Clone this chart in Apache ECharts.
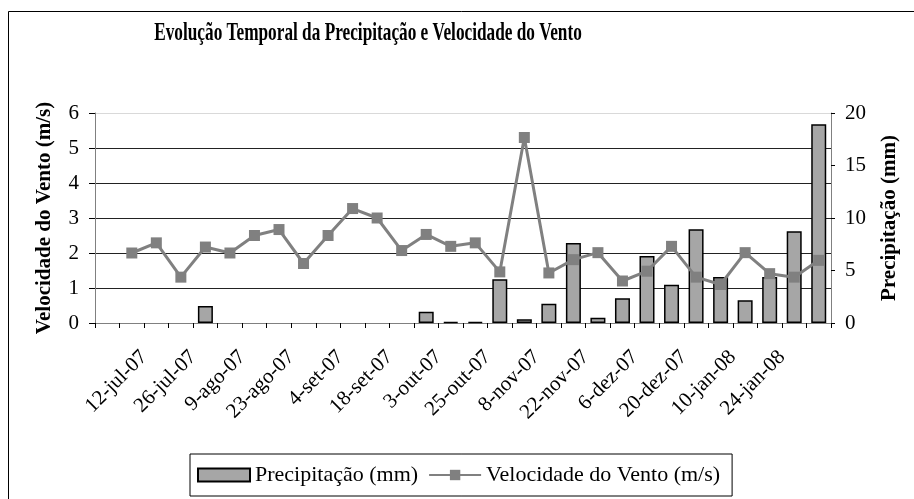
<!DOCTYPE html>
<html>
<head>
<meta charset="utf-8">
<script src="https://cdn.jsdelivr.net/npm/echarts@6/dist/echarts.min.js"></script>
<style>
html,body{margin:0;padding:0;background:#fff;}
#chart{width:914px;height:499px;}
</style>
</head>
<body>
<div id="chart"></div>
<script>
// Tick labels shown under the x axis (every second category boundary)
const tickLabels = ['12-jul-07','26-jul-07','9-ago-07','23-ago-07','4-set-07','18-set-07','3-out-07','25-out-07','8-nov-07','22-nov-07','6-dez-07','20-dez-07','10-jan-08','24-jan-08'];
// 30 category slots (first one empty)
const categories = ['','','','','','','','','','','','','','','','','','','','','','','','','','','','','',''];
// Precipitação (mm)
const precipitation = ['-','-','-','-',1.62,'-','-','-','-','-','-','-','-',1.08,0.1,0.1,4.16,0.35,1.84,7.62,0.51,2.35,6.38,3.65,8.92,4.38,2.16,4.38,8.73,18.92];
// Velocidade do Vento (m/s)
const windSpeed = ['-',2.0,2.29,1.31,2.17,2.0,2.5,2.67,1.70,2.5,3.27,3.0,2.07,2.53,2.19,2.29,1.46,5.30,1.43,1.81,2.01,1.2,1.48,2.19,1.31,1.1,2.01,1.41,1.31,1.79];

// boundary positions (31) carrying the labels at even boundaries 2..28
const boundaryLabels = [];
for (let k = 0; k <= categories.length; k++) boundaryLabels.push('');
tickLabels.forEach((t, i) => { boundaryLabels[2 * i + 2] = t; });

const FONT = 'Liberation Serif, Times New Roman, serif';
const chart = echarts.init(document.getElementById('chart'), null, {renderer: 'canvas'});
chart.setOption({
  animation: false,
  backgroundColor: '#fff',
  textStyle: {fontFamily: FONT, color: '#000'},
  graphic: [
    {type: 'rect', shape: {x: 8.5, y: 11.5, width: 1000, height: 1000}, style: {fill: null, stroke: '#000', lineWidth: 1}, silent: true, z: -10},
    {type: 'text', x: 368, y: 34, scaleX: 0.69, style: {text: 'Evolução Temporal da Precipitação e Velocidade do Vento', font: 'bold 25px ' + FONT, fill: '#000', textAlign: 'center', textVerticalAlign: 'middle'}, silent: true}
  ],
  legend: {
    left: 190, top: 454,
    padding: [10, 12, 10, 7],
    itemGap: 10,
    itemWidth: 52, itemHeight: 13,
    borderColor: '#000', borderWidth: 1,
    textStyle: {fontFamily: FONT, fontSize: 22, color: '#000'},
    data: [
      {name: 'Precipitação (mm)', icon: 'rect'},
      {name: 'Velocidade do Vento (m/s)'}
    ]
  },
  grid: {left: 95, right: 83, top: 113, bottom: 176, containLabel: false},
  xAxis: [
    {
      type: 'category', data: categories, boundaryGap: true, position: 'bottom',
      axisLine: {show: true, lineStyle: {color: '#808080', width: 1}},
      axisTick: {show: true, interval: 0, length: 5, lineStyle: {color: '#000'}},
      axisLabel: {show: false},
      splitLine: {show: false}
    },
    {
      type: 'category', data: boundaryLabels, boundaryGap: false, position: 'bottom',
      axisLine: {show: false}, axisTick: {show: false}, splitLine: {show: false},
      axisLabel: {show: true, interval: 0, rotate: 45, margin: 31, fontFamily: FONT, fontSize: 21, color: '#000'}
    }
  ],
  yAxis: [
    {
      type: 'value', min: 0, max: 6, interval: 1, position: 'left',
      name: 'Velocidade do Vento (m/s)', nameLocation: 'middle', nameRotate: 90, nameGap: 40,
      nameTextStyle: {fontFamily: FONT, fontSize: 21, fontWeight: 'bold', color: '#000'},
      axisLine: {show: true, lineStyle: {color: '#808080'}},
      axisTick: {show: true, length: 6, lineStyle: {color: '#000'}},
      axisLabel: {margin: 16, fontFamily: FONT, fontSize: 21, color: '#000'},
      splitLine: {show: true, lineStyle: {color: ['#222','#222','#222','#222','#222','#222','#d9d9d9'], width: 1}}
    },
    {
      type: 'value', min: 0, max: 20, interval: 5, position: 'right',
      name: 'Precipitação (mm)', nameLocation: 'middle', nameRotate: 90, nameGap: 48,
      nameTextStyle: {fontFamily: FONT, fontSize: 21, fontWeight: 'bold', color: '#000'},
      axisLine: {show: true, lineStyle: {color: '#808080'}},
      axisTick: {show: true, length: 4, lineStyle: {color: '#000'}},
      axisLabel: {margin: 14, fontFamily: FONT, fontSize: 21, color: '#000'},
      splitLine: {show: false}
    }
  ],
  series: [
    {
      name: 'Precipitação (mm)', type: 'bar', xAxisIndex: 0, yAxisIndex: 1,
      data: precipitation, barWidth: 15,
      itemStyle: {color: '#a6a6a6', borderColor: '#000', borderWidth: 1.5}
    },
    {
      name: 'Velocidade do Vento (m/s)', type: 'line', xAxisIndex: 0, yAxisIndex: 0,
      data: windSpeed, symbol: 'rect', symbolSize: 11, showSymbol: true,
      lineStyle: {color: '#808080', width: 3},
      itemStyle: {color: '#808080'},
      connectNulls: false
    }
  ]
});
</script>
</body>
</html>
